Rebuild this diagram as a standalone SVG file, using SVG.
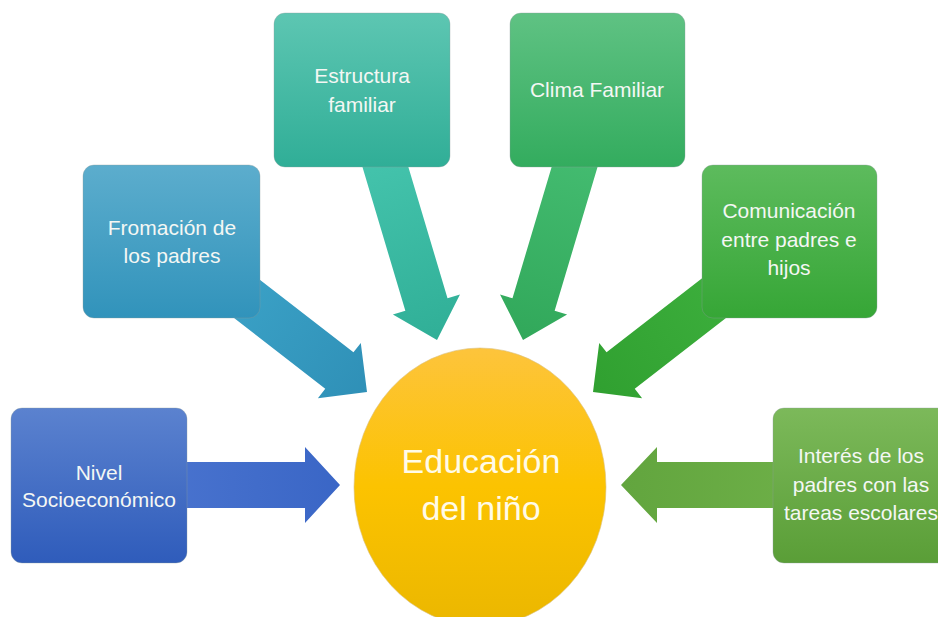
<svg xmlns="http://www.w3.org/2000/svg" width="938" height="617" viewBox="0 0 938 617">
  <defs>
    <linearGradient id="gNivel" x1="0" y1="0" x2="0" y2="1"><stop offset="0" stop-color="#5b82cf"/><stop offset="1" stop-color="#2f5cbb"/></linearGradient>
    <linearGradient id="gFrom" x1="0" y1="0" x2="0" y2="1"><stop offset="0" stop-color="#5cadcd"/><stop offset="1" stop-color="#3193bb"/></linearGradient>
    <linearGradient id="gEst" x1="0" y1="0" x2="0" y2="1"><stop offset="0" stop-color="#5dc6b2"/><stop offset="1" stop-color="#30ae97"/></linearGradient>
    <linearGradient id="gClima" x1="0" y1="0" x2="0" y2="1"><stop offset="0" stop-color="#5fc283"/><stop offset="1" stop-color="#33ac5e"/></linearGradient>
    <linearGradient id="gCom" x1="0" y1="0" x2="0" y2="1"><stop offset="0" stop-color="#5dbb5d"/><stop offset="1" stop-color="#36a636"/></linearGradient>
    <linearGradient id="gInt" x1="0" y1="0" x2="0" y2="1"><stop offset="0" stop-color="#7cb95a"/><stop offset="1" stop-color="#5a9e37"/></linearGradient>
    <linearGradient id="gCirc" x1="0" y1="0" x2="0" y2="1"><stop offset="0" stop-color="#fdc43c"/><stop offset="0.5" stop-color="#fcc300"/><stop offset="1" stop-color="#ebb700"/></linearGradient>
    <linearGradient id="aNivel" x1="0" y1="0" x2="1" y2="0"><stop offset="0" stop-color="#4a74cf"/><stop offset="1" stop-color="#3a66c6"/></linearGradient>
    <linearGradient id="aFrom" x1="0" y1="0" x2="1" y2="0"><stop offset="0" stop-color="#40a9cd"/><stop offset="1" stop-color="#2f90b7"/></linearGradient>
    <linearGradient id="aEst" x1="0" y1="0" x2="1" y2="0"><stop offset="0" stop-color="#46c5ae"/><stop offset="1" stop-color="#30af97"/></linearGradient>
    <linearGradient id="aClima" x1="0" y1="0" x2="1" y2="0"><stop offset="0" stop-color="#45bd72"/><stop offset="1" stop-color="#31a85a"/></linearGradient>
    <linearGradient id="aCom" x1="0" y1="0" x2="1" y2="0"><stop offset="0" stop-color="#42b542"/><stop offset="1" stop-color="#30a030"/></linearGradient>
    <linearGradient id="aInt" x1="0" y1="0" x2="1" y2="0"><stop offset="0" stop-color="#6eb048"/><stop offset="1" stop-color="#62a53e"/></linearGradient>
  </defs>
  <style>
    .box { stroke: #8a9a9a; stroke-opacity: 0.35; stroke-width: 1; }
    .t { font-family: "Liberation Sans", Arial, sans-serif; font-size: 21px; fill: #f4f7f4; text-anchor: middle; }
    .big { font-family: "Liberation Sans", Arial, sans-serif; font-size: 34px; fill: #fffbe8; text-anchor: middle; }
  </style>
  <rect width="938" height="617" fill="#ffffff"/>
  <g id="connectors">
    <polygon transform="translate(340,485)" fill="url(#aNivel)" points="-190,-23 -35,-23 -35,-38 0,0 -35,38 -35,23 -190,23"/>
    <polygon transform="translate(367,392) rotate(37.8)" fill="url(#aFrom)" points="-246,-23 -35,-23 -35,-35 0,0 -35,35 -35,23 -246,23"/>
    <polygon transform="translate(437,340) rotate(73.4)" fill="url(#aEst)" points="-209,-22 -37,-22 -37,-35 0,0 -37,35 -37,22 -209,22"/>
    <polygon transform="translate(523,340) rotate(106.6)" fill="url(#aClima)" points="-209,-22 -37,-22 -37,-35 0,0 -37,35 -37,22 -209,22"/>
    <polygon transform="translate(593,392) rotate(142.2)" fill="url(#aCom)" points="-246,-23 -35,-23 -35,-35 0,0 -35,35 -35,23 -246,23"/>
    <polygon transform="translate(621,485) rotate(180)" fill="url(#aInt)" points="-190,-23 -36,-23 -36,-38 0,0 -36,38 -36,23 -190,23"/>
  </g>
  <g id="nivel">
    <rect class="box" x="11" y="408" width="176" height="155" rx="11" fill="url(#gNivel)"/>
    <text class="t" x="99" y="480">Nivel</text>
    <text class="t" x="99" y="507">Socioeconómico</text>
  </g>
  <g id="fromacion">
    <rect class="box" x="83" y="165" width="177" height="153" rx="11" fill="url(#gFrom)"/>
    <text class="t" x="172" y="235">Fromación de</text>
    <text class="t" x="172" y="263">los padres</text>
  </g>
  <g id="estructura">
    <rect class="box" x="274" y="13" width="176" height="154" rx="11" fill="url(#gEst)"/>
    <text class="t" x="362" y="83">Estructura</text>
    <text class="t" x="362" y="112">familiar</text>
  </g>
  <g id="clima">
    <rect class="box" x="510" y="13" width="175" height="154" rx="11" fill="url(#gClima)"/>
    <text class="t" x="597" y="97">Clima Familiar</text>
  </g>
  <g id="comunicacion">
    <rect class="box" x="702" y="165" width="175" height="153" rx="11" fill="url(#gCom)"/>
    <text class="t" x="789" y="218">Comunicación</text>
    <text class="t" x="789" y="247">entre padres e</text>
    <text class="t" x="789" y="275">hijos</text>
  </g>
  <g id="interes">
    <rect class="box" x="773" y="408" width="176" height="155" rx="11" fill="url(#gInt)"/>
    <text class="t" x="861" y="463">Interés de los</text>
    <text class="t" x="861" y="492">padres con las</text>
    <text class="t" x="861" y="520">tareas escolares</text>
  </g>
  <g id="educacion">
    <ellipse cx="480" cy="487" rx="126" ry="139" fill="url(#gCirc)" stroke="#d9c080" stroke-opacity="0.6" stroke-width="1"/>
    <text class="big" x="481" y="473">Educación</text>
    <text class="big" x="481" y="520">del niño</text>
  </g>
</svg>
